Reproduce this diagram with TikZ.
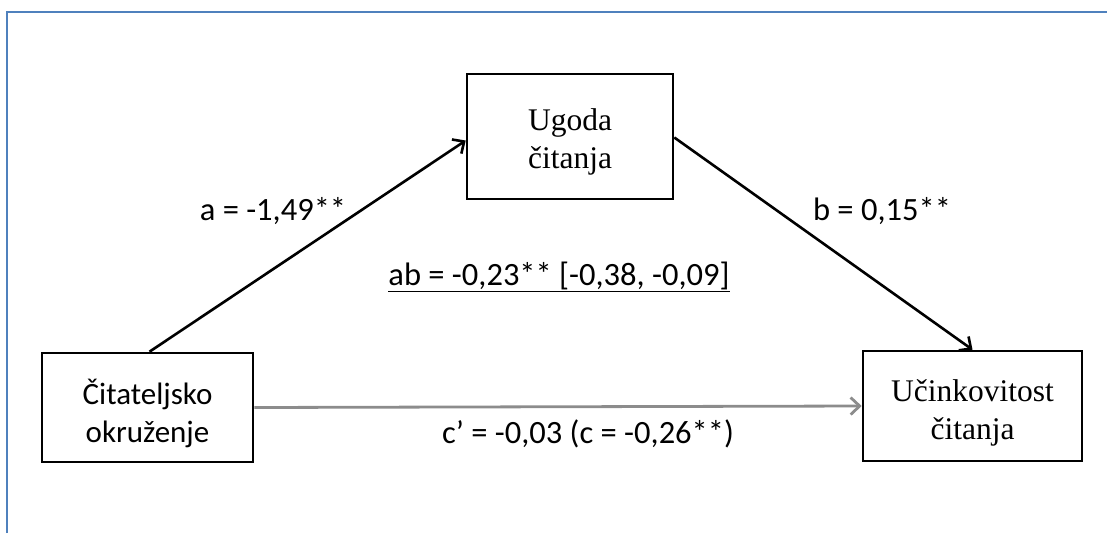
\documentclass[tikz,border=0pt]{standalone}
\usepackage{fontspec}
\setmainfont{Liberation Serif}
\newfontfamily\lblfont{Carlito}
\usetikzlibrary{arrows.meta,calc}
\definecolor{framebl}{RGB}{79,129,189}
\definecolor{arrgray}{RGB}{140,140,140}
\tikzset{
  box/.style={draw=black, line width=2.6pt, fill=white, align=center, inner sep=0pt,
    font=\fontsize{31.5}{38}\selectfont},
  lbl/.style={anchor=base, inner sep=0pt, font=\lblfont\fontsize{32.5}{38}\selectfont},
  path/.style={line width=2.6pt, -{Straight Barb[length=9pt,width=17pt]}},
  gpath/.style={draw=arrgray, line width=2.8pt, -{Straight Barb[length=9pt,width=17pt]}}
}
\begin{document}
\begin{tikzpicture}[x=1pt,y=-1pt]
\useasboundingbox (0,0) rectangle (1107,533);
\draw[framebl, line width=2pt] (7,533) -- (7,12) -- (1107,12);
\node[box, minimum width=206pt, minimum height=125pt] (ugoda) at (570,136.5) {\rule{0pt}{33pt}Ugoda\\čitanja};
\node[box, minimum width=211pt, minimum height=109pt, font=\lblfont\fontsize{31}{38}\selectfont] (cit) at (147.5,407.5) {\rule{0pt}{38pt}Čitateljsko\\okruženje};
\node[box, minimum width=219pt, minimum height=110pt] (ucin) at (972.5,406) {\rule{0pt}{36pt}Učinkovitost\\čitanja};
\draw[path] ($(cit.north)+(2,0)$) -- ($(ugoda.west)+(0,4)$);
\draw[path] ($(ugoda.east)+(0,1)$) -- (ucin.north);
\draw[gpath] (cit.east) -- (ucin.west);
\node[lbl] (la) at (273,220) {a = -1,49**};
\node[lbl] (lb) at (882,220) {b = 0,15**};
\node[lbl] (lab) at (559,285) {\underline{ab = -0,23** [-0,38, -0,09]}};
\node[lbl] (lc) at (588,443) {c’ = -0,03 (c = -0,26**)};
\end{tikzpicture}
\end{document}
